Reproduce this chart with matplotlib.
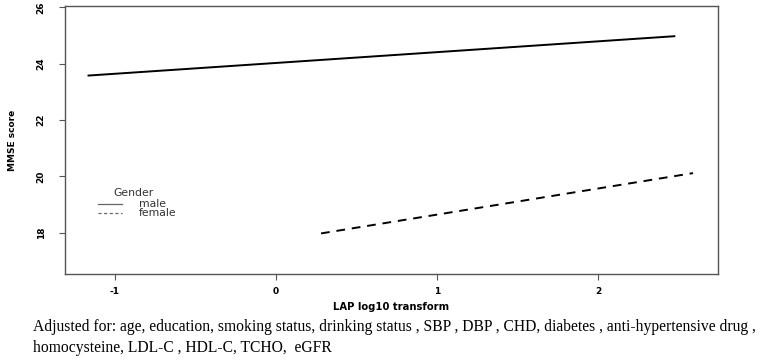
import matplotlib
matplotlib.use("Agg")
import matplotlib.pyplot as plt
from matplotlib.lines import Line2D

# Data
male_x = [-1.17, 2.48]
male_y = [23.58, 24.98]
female_x = [0.28, 2.59]
female_y = [17.98, 20.12]
xticks = [-1, 0, 1, 2]
yticks = [18, 20, 22, 24, 26]
legend_title = "Gender"
legend_labels = ["male", "female"]

W, H = 766, 361
plt.rcParams['font.family'] = ['DejaVu Sans']

fig = plt.figure(figsize=(W/100, H/100), dpi=100)
ax = fig.add_axes([65/W, 1-274/H, (718-65)/W, (274-6)/H])

ax.plot(male_x, male_y, color='black', lw=1.4, solid_capstyle='butt')
ax.plot(female_x, female_y, color='black', lw=1.4, ls=(0, (4.5, 3.5)))

ax.set_xlim(-1.31, 2.745)
ax.set_ylim(16.54, 26.05)
ax.set_xticks(xticks)
ax.set_yticks(yticks)
ax.set_xticklabels([str(t) for t in xticks], fontsize=6.5, fontweight='bold')
ax.set_yticklabels([str(t) for t in yticks], fontsize=6.5, rotation=90, va='center', fontweight='bold')
ax.tick_params(axis='both', direction='out', length=4, width=0.8, color='#555555')
ax.tick_params(axis='y', pad=10)
ax.tick_params(axis='x', pad=5)
for s in ax.spines.values():
    s.set_color('#555555')
    s.set_linewidth(1.0)

ax.set_xlabel("LAP log10 transform", fontsize=7.2, fontweight='bold', labelpad=5)
ax.set_ylabel("MMSE score", fontsize=6.5, fontweight='bold', labelpad=14)

# Legend drawn like R's (manual placement in figure pixels)
def fx(x):
    return x / W
def fy(y):
    return 1 - y / H

fig.text(fx(113), fy(193), legend_title, fontsize=7.8, ha='left', va='center', color='#333333')
styles = ['-', (0, (2.5, 2.0))]
ys = [204, 213]
for lab, st, yy in zip(legend_labels, styles, ys):
    fig.add_artist(Line2D([fx(98), fx(122)], [fy(yy), fy(yy)], color='#666666', lw=0.9, ls=st))
    fig.text(fx(139), fy(yy), lab, fontsize=7.8, ha='left', va='center', color='#333333')

fig.text(fx(33), fy(327), "Adjusted for: age, education, smoking status, drinking status , SBP , DBP , CHD, diabetes , anti-hypertensive drug ,",
         fontsize=11.25, family='Liberation Serif', va='center', ha='left')
fig.text(fx(33), fy(348), "homocysteine, LDL-C , HDL-C, TCHO,  eGFR",
         fontsize=11.25, family='Liberation Serif', va='center', ha='left')

fig.savefig("out.png", dpi=100)
